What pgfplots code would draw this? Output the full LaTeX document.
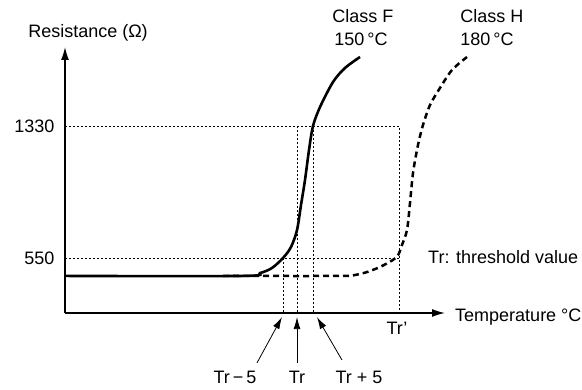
\documentclass[border=0pt]{standalone}
\usepackage{fontspec}
\setmainfont{Liberation Sans}
\usepackage{pgfplots}
\pgfplotsset{compat=1.18}
\usetikzlibrary{arrows.meta}

\begin{document}
\begin{tikzpicture}[font=\fontsize{18}{21}\selectfont]
\begin{axis}[
  scale only axis, width=380pt, height=266pt,
  xmin=65, xmax=445, ymin=225, ymax=1797,
  axis lines=left,
  axis line style={line width=1.3pt, -{Latex[length=13pt,width=8pt]}},
  xtick=\empty, ytick={550,1330}, yticklabels={550,1330},
  major tick length=0pt,
  yticklabel style={xshift=-7pt},
  clip=false,
  /pgf/number format/assume math mode=true,
]
% reference lines
\addplot[black, line width=0.8pt, dash pattern=on 2pt off 2pt] coordinates {(65,1330) (399,1330) (399,225)};
\addplot[black, line width=0.8pt, dash pattern=on 2pt off 2pt] coordinates {(65,550) (399,550)};
\addplot[black, line width=0.8pt, dash pattern=on 2pt off 2pt] coordinates {(283,550) (283,225)};
\addplot[black, line width=0.8pt, dash pattern=on 2pt off 2pt] coordinates {(297,1330) (297,225)};
\addplot[black, line width=0.8pt, dash pattern=on 2pt off 2pt] coordinates {(313,1330) (313,225)};
% Class H
\addplot[black, line width=2.5pt, dash pattern=on 6pt off 4pt, smooth] coordinates {
(223,444) (340,444) (355,450) (367,467) (380,497) (392,535) (398,566) (402,627) (407,715) (410,875) (413,1052) (418,1218) (423,1336) (430,1454) (440,1555) (452,1661) (467,1738)};
% Class F
\addplot[black, line width=2.6pt, smooth] coordinates {
(65,444) (243,444) (260,461) (272,491) (283,550) (291,615) (297,715) (301,863) (305,1011) (309,1188) (313,1330) (320,1442) (333,1590) (345,1673) (360,1738)};
% texts
\node[anchor=base] at (axis cs:88,1856) {Resistance (Ω)};
\node[anchor=base] at (axis cs:363,1944) {Class F};
\node[anchor=base] at (axis cs:361,1808) {150\,°C};
\node[anchor=base] at (axis cs:492,1944) {Class H};
\node[anchor=base] at (axis cs:487,1808) {180\,°C};
\node[anchor=base west, inner sep=0pt] at (axis cs:428,520) {Tr: threshold value};
\node[anchor=base west, inner sep=0pt] at (axis cs:455,172) {Temperature °C};
\node[anchor=base] at (axis cs:397,95) {Tr’};
\node[anchor=base] at (axis cs:235,-189) {Tr\,−\,5};
\node[anchor=base] at (axis cs:297,-189) {Tr};
\node[anchor=base] at (axis cs:359,-189) {Tr + 5};
\draw[line width=0.8pt, -{Latex[length=12pt,width=7pt]}] (axis cs:257,-70) -- (axis cs:282,201);
\draw[line width=0.8pt, -{Latex[length=12pt,width=7pt]}] (axis cs:297,-70) -- (axis cs:297,201);
\draw[line width=0.8pt, -{Latex[length=12pt,width=7pt]}] (axis cs:342,-53) -- (axis cs:317,201);
\end{axis}
\path[use as bounding box] ([shift={(-65pt,-77pt)}]current axis.south west) rectangle ([shift={(137pt,47pt)}]current axis.north east);
\end{tikzpicture}
\end{document}
